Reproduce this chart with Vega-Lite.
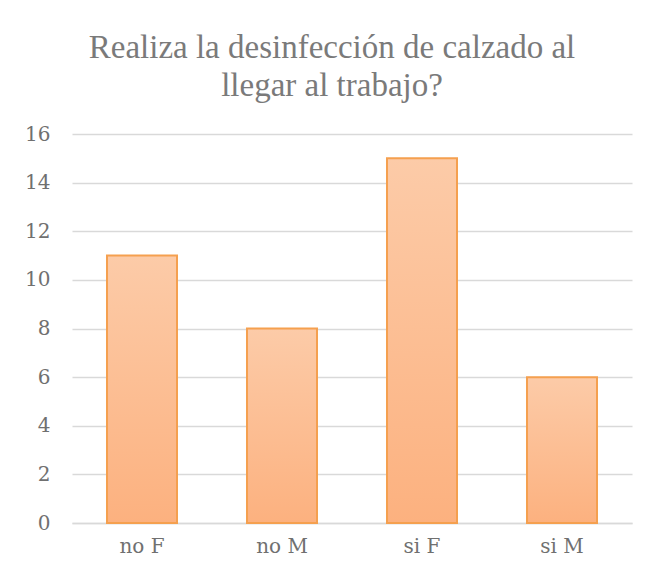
{
  "$schema": "https://vega.github.io/schema/vega-lite/v6.json",
  "width": 560,
  "height": 389,
  "autosize": {"type": "none"},
  "padding": {"left": 72, "top": 134, "right": 20, "bottom": 58},
  "background": "white",
  "title": {
    "text": ["Realiza la desinfección de calzado al", "llegar al trabajo?"],
    "font": "Liberation Serif",
    "fontSize": 33,
    "fontWeight": "normal",
    "color": "#7a7a7a",
    "lineHeight": 38,
    "anchor": "middle",
    "dx": -20,
    "offset": 21
  },
  "data": {
    "values": [
      {"categoria": "no F", "valor": 11},
      {"categoria": "no M", "valor": 8},
      {"categoria": "si F", "valor": 15},
      {"categoria": "si M", "valor": 6}
    ]
  },
  "mark": {
    "type": "bar",
    "stroke": "#F5A04F",
    "strokeWidth": 2,
    "color": {
      "gradient": "linear",
      "x1": 0, "y1": 0, "x2": 0, "y2": 1,
      "stops": [
        {"offset": 0, "color": "#FCCBA8"},
        {"offset": 1, "color": "#FCB17F"}
      ]
    }
  },
  "encoding": {
    "x": {
      "field": "categoria",
      "type": "nominal",
      "sort": null,
      "scale": {"paddingInner": 0.5, "paddingOuter": 0.25},
      "axis": {
        "title": null,
        "labelAngle": 0,
        "labelFont": "DejaVu Serif",
        "labelFontSize": 20,
        "labelColor": "#707070",
        "labelPadding": 13,
        "ticks": false,
        "domainColor": "#d9d9d9",
        "domainWidth": 1.5
      }
    },
    "y": {
      "field": "valor",
      "type": "quantitative",
      "scale": {"domain": [0, 16]},
      "axis": {
        "title": null,
        "values": [0, 2, 4, 6, 8, 10, 12, 14, 16],
        "labelFont": "DejaVu Serif",
        "labelFontSize": 20,
        "labelColor": "#707070",
        "labelPadding": 22,
        "ticks": false,
        "domain": false,
        "gridColor": "#d9d9d9",
        "gridWidth": 1.5
      }
    }
  },
  "config": {"view": {"stroke": null}}
}
